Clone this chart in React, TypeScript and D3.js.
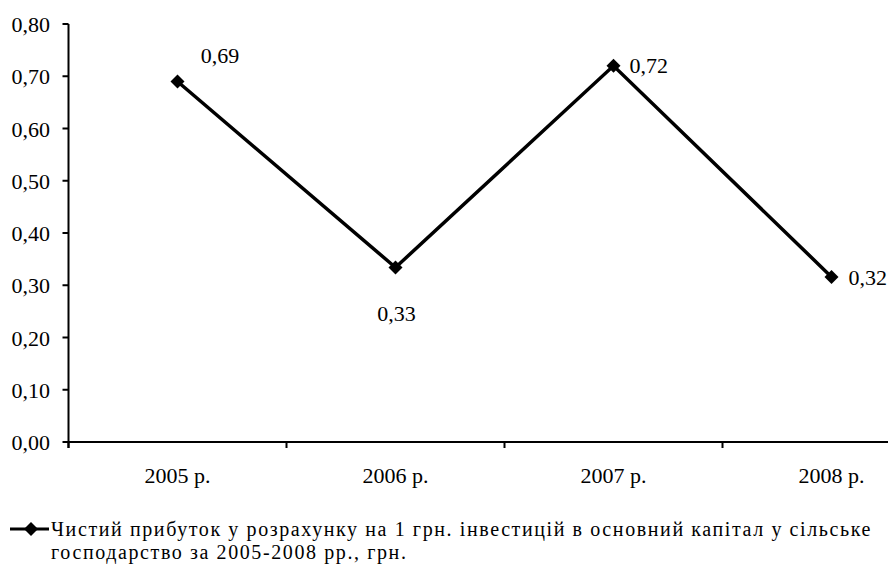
import React from "react";
import * as d3 from "d3";

const categories = ["2005 р.", "2006 р.", "2007 р.", "2008 р."];
const values = [0.69, 0.334, 0.72, 0.316];
const yTicks = [0, 0.1, 0.2, 0.3, 0.4, 0.5, 0.6, 0.7, 0.8];
const legendLine1 = "Чистий прибуток у розрахунку на 1 грн. інвестицій в основний капітал у сільське";
const legendLine2 = "господарство за 2005-2008 рр., грн.";

const W = 888;
const H = 565;
const left = 68.5;
const plotW = 872;
const top = 24;
const bottom = 442;

const fmt = (v: number) => v.toFixed(2).replace(".", ",");

export default function App() {
  const x = d3.scaleBand<string>().domain(categories).range([left, left + plotW]);
  const y = d3.scaleLinear().domain([0, 0.8]).range([bottom, top]);
  const line = d3
    .line<number>()
    .x((_, i) => (x(categories[i]) as number) + x.bandwidth() / 2)
    .y((d) => y(d));
  const textStyle = { fontFamily: "'Liberation Serif', 'Times New Roman', serif", fontSize: "22px" };
  const legendStyle = { ...textStyle, fontSize: "20px", letterSpacing: "1.6px" };
  const diamond = (cx: number, cy: number, r = 7) =>
    `M${cx},${cy - r}L${cx + r},${cy}L${cx},${cy + r}L${cx - r},${cy}Z`;
  const labelPos: [number, number, string][] = [
    [42.5, -18.5, "middle"],
    [1, 53.5, "middle"],
    [16, 7.5, "start"],
    [17, 8, "start"],
  ];
  const boundaries = categories.map((c) => x(c) as number).concat([left + plotW]);
  return (
    <svg
      width={W}
      height={H}
      style={{ position: "absolute", left: 0, top: 0, background: "#fff" }}
    >
      <rect width={W} height={H} fill="#fff" />
      <line x1={left} x2={left} y1={top} y2={bottom + 6} stroke="#000" strokeWidth={2} />
      {yTicks.map((t) => (
        <g key={t}>
          <line x1={left - 6} x2={left} y1={y(t)} y2={y(t)} stroke="#000" strokeWidth={2} />
          <text x={50} y={y(t) + 8} textAnchor="end" style={textStyle} fill="#000">
            {fmt(t)}
          </text>
        </g>
      ))}
      <line x1={left} x2={left + plotW} y1={bottom} y2={bottom} stroke="#000" strokeWidth={2} />
      {boundaries.map((b, i) => (
        <line key={i} x1={b} x2={b} y1={bottom} y2={bottom + 6} stroke="#000" strokeWidth={2} />
      ))}
      {categories.map((c) => (
        <text
          key={c}
          x={(x(c) as number) + x.bandwidth() / 2}
          y={483}
          textAnchor="middle"
          style={textStyle}
          fill="#000"
        >
          {c}
        </text>
      ))}
      <path d={line(values) || ""} fill="none" stroke="#000" strokeWidth={3.5} />
      {values.map((v, i) => {
        const cx = (x(categories[i]) as number) + x.bandwidth() / 2;
        const cy = y(v);
        const [dx, dy, anchor] = labelPos[i];
        return (
          <g key={i}>
            <path d={diamond(cx, cy)} fill="#000" />
            <text x={cx + dx} y={cy + dy} textAnchor={anchor as any} style={textStyle} fill="#000">
              {fmt(v)}
            </text>
          </g>
        );
      })}
      <line x1={10} x2={49} y1={529} y2={529} stroke="#000" strokeWidth={3} />
      <path d={diamond(31, 529)} fill="#000" />
      <text x={51} y={536} style={legendStyle} fill="#000">
        {legendLine1}
      </text>
      <text x={51} y={558.5} style={legendStyle} fill="#000">
        {legendLine2}
      </text>
    </svg>
  );
}
